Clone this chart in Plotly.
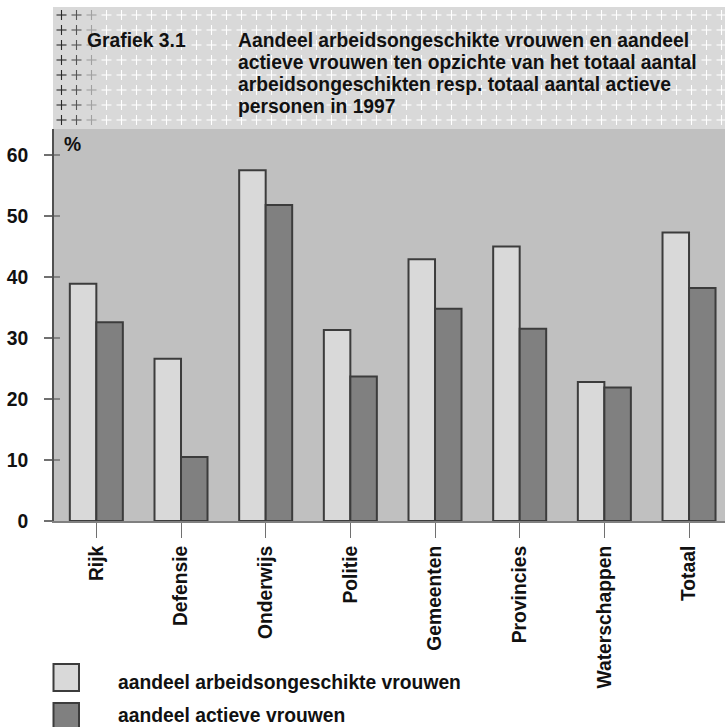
import numpy as np
import plotly.graph_objects as go

# Data: share of women (%) per sector, 1997
categories = ["Rijk", "Defensie", "Onderwijs", "Politie", "Gemeenten",
              "Provincies", "Waterschappen", "Totaal"]
aandeel_ao = [38.9, 26.6, 57.5, 31.3, 42.9, 45.0, 22.8, 47.3]
aandeel_actief = [32.6, 10.5, 51.8, 23.7, 34.8, 31.5, 21.9, 38.2]
series_names = ["aandeel arbeidsongeschikte vrouwen", "aandeel actieve vrouwen"]
y_ticks = [0, 10, 20, 30, 40, 50, 60]

chart_label = "Grafiek 3.1"
title_lines = [
    "Aandeel arbeidsongeschikte vrouwen en aandeel",
    "actieve vrouwen ten opzichte van het totaal aantal",
    "arbeidsongeschikten resp. totaal aantal actieve",
    "personen in 1997",
]

# Canvas geometry (pixels)
W, H = 725, 727
L, R, T, B = 54, 0, 7, 206
PLOT_TOP = 129          # top of the bar area / bottom of the header band
ZERO_Y = H - B          # y pixel of the baseline
plot_w = W - L - R
plot_h = ZERO_Y - T
split = (ZERO_Y - PLOT_TOP) / plot_h


def px(x):
    return (x - L) / plot_w


def py(y):
    return (ZERO_Y - y) / plot_h


FONT = dict(family="Liberation Sans, Arial, sans-serif", size=19.3, color="#111111", weight=700)
LIGHT, DARK, EDGE = "#d9d9d9", "#808080", "#3c3c3c"

fig = go.Figure()

fig.add_trace(go.Bar(x=categories, y=aandeel_ao, name=series_names[0],
                     marker=dict(color=LIGHT, line=dict(color=EDGE, width=2)),
                     xaxis="x", yaxis="y", hoverinfo="skip"))
fig.add_trace(go.Bar(x=categories, y=aandeel_actief, name=series_names[1],
                     marker=dict(color=DARK, line=dict(color=EDGE, width=2)),
                     xaxis="x", yaxis="y", hoverinfo="skip"))

# Header band decoration: a grid of small crosses, the first columns darker
cx = np.arange(61.5, W, 15.0)
cy = np.arange(15.0, PLOT_TOP - 5, 15.0)
ARM = 5.0
shade = ["#2a2a2a", "#555555", "#a0a0a0"]
groups = [(shade[0], cx[:1]), (shade[1], cx[1:2]), (shade[2], cx[2:3]), ("#ffffff", cx[3:])]
for color, cols in groups:
    xs, ys = [], []
    for x in cols:
        for y in cy:
            xs += [x - ARM, x + ARM, None, x, x, None]
            ys += [y, y, None, y - ARM, y + ARM, None]
    fig.add_trace(go.Scatter(x=xs, y=ys, mode="lines", line=dict(color=color, width=1.1),
                             xaxis="x2", yaxis="y2", hoverinfo="skip", showlegend=False))

shapes = []
# header background
shapes.append(dict(type="rect", xref="paper", yref="paper", x0=px(53), x1=px(W), y0=py(PLOT_TOP), y1=1,
                   fillcolor="#d9d9d9", line=dict(width=0), layer="below"))
# inner stubs of the y ticks
for v in y_ticks[1:]:
    shapes.append(dict(type="line", xref="paper", yref="y", x0=0, x1=px(60), y0=v, y1=v,
                       line=dict(color="#707070", width=1.5)))
# legend swatches
for (y0, y1), col in zip([(664, 691), (703, 730)], [LIGHT, DARK]):
    shapes.append(dict(type="rect", xref="paper", yref="paper", x0=px(53.5), x1=px(79),
                       y0=py(y1), y1=py(y0), fillcolor=col, line=dict(color=EDGE, width=2)))

annotations = []
annotations.append(dict(text=chart_label, xref="paper", yref="paper", x=px(85), y=py(41),
                        xanchor="left", yanchor="middle", showarrow=False, font=FONT))
for i, line in enumerate(title_lines):
    annotations.append(dict(text=line, xref="paper", yref="paper", x=px(236), y=py(41 + 21.7 * i),
                            xanchor="left", yanchor="middle", showarrow=False, font=FONT))
annotations.append(dict(text="%", xref="paper", yref="paper", x=px(62), y=py(144),
                        xanchor="left", yanchor="middle", showarrow=False, font=FONT))
for name, yc in zip(series_names, [682, 715]):
    annotations.append(dict(text=name, xref="paper", yref="paper", x=px(116), y=py(yc),
                            xanchor="left", yanchor="middle", showarrow=False, font=FONT))

fig.update_layout(
    width=W, height=H,
    margin=dict(l=L, r=R, t=T, b=B, pad=0),
    paper_bgcolor="white",
    plot_bgcolor="#c0c0c0",
    barmode="group", bargap=0.374, bargroupgap=0,
    showlegend=False,
    font=FONT,
    xaxis=dict(domain=[0, 1], range=[-0.5, -0.5 + plot_w / 84.67], type="category",
               showgrid=False, showline=True, linecolor="#808080", linewidth=2,
               ticks="outside", ticklen=15, tickwidth=1, tickcolor="#707070",
               tickangle=-90, tickfont=FONT, ticklabelstandoff=0, anchor="y",
               fixedrange=True),
    yaxis=dict(domain=[0, split], range=[0, (ZERO_Y - PLOT_TOP) / 6.1],
               tickvals=y_ticks, showgrid=False, zeroline=False,
               showline=True, linecolor="#505050", linewidth=2,
               ticks="outside", ticklen=8, tickwidth=1.5, tickcolor="#707070",
               tickfont=FONT, ticklabelstandoff=12, anchor="x", fixedrange=True),
    xaxis2=dict(domain=[0, 1], range=[L, W], visible=False, anchor="y2", fixedrange=True),
    yaxis2=dict(domain=[split, 1], range=[PLOT_TOP, T], visible=False, anchor="x2", fixedrange=True),
    shapes=shapes,
    annotations=annotations,
)

fig.write_html("out.html")
